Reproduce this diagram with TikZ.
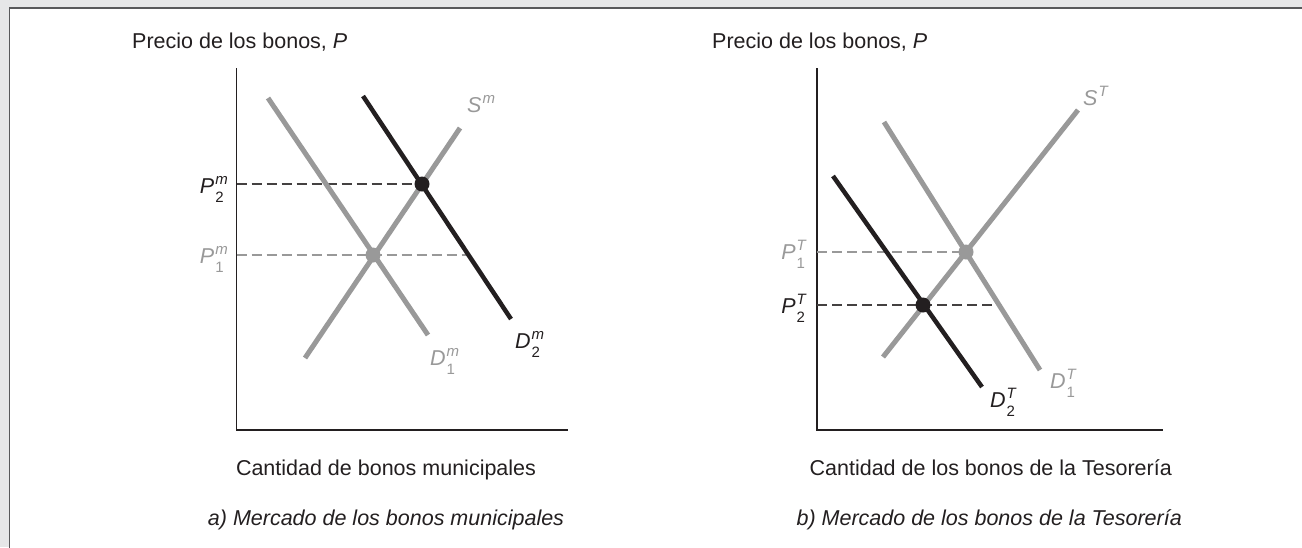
\documentclass[tikz,border=0pt]{standalone}
\usepackage{fontspec}
\setmainfont{Liberation Sans}
\definecolor{bgc}{HTML}{E6E7E8}
\definecolor{framec}{HTML}{58595B}
\definecolor{ink}{HTML}{231F20}
\definecolor{lgray}{HTML}{999999}
\newcommand{\subfont}{\fontsize{15}{15}\selectfont}
\newcommand{\ssl}[3]{{\itshape #1}\hspace{1pt}{\subfont\setbox0=\hbox{\itshape #2}\setbox2=\hbox{#3}\ifdim\wd0>\wd2 \dimen0=\wd0 \else\dimen0=\wd2 \fi\rlap{\raise 8.5pt\copy0}\hbox to\dimen0{\lower 9pt\copy2\hfil}}}
\newcommand{\sss}[2]{{\itshape #1}\hspace{1pt}{\subfont\raise 8.5pt\hbox{\itshape #2}}}
\tikzset{
  txt/.style={inner sep=0pt, font=\fontsize{21.5}{25}\selectfont, text=ink},
  axisline/.style={draw=ink, line width=1.5pt},
  grayline/.style={draw=lgray, line width=5pt},
  blackline/.style={draw=ink, line width=4.5pt},
  darkdash/.style={draw=ink!85, line width=1.3pt, dash pattern=on 10pt off 5pt},
  graydash/.style={draw=lgray, line width=1.3pt, dash pattern=on 10pt off 5pt},
  blackdot/.style={fill=ink},
  graydot/.style={fill=lgray},
}
\begin{document}
\begin{tikzpicture}[x=1pt,y=-1pt]
\useasboundingbox (0,0) rectangle (1302,547);
\fill[bgc] (0,0) rectangle (1302,547);
\filldraw[fill=white, draw=framec, line width=1.5pt] (9.5,8) rectangle (1320,560);

% ---------- left panel ----------
\coordinate (LA) at (236.5,68);
\coordinate (LO) at (236.5,430);
\coordinate (LX) at (568,430);
\draw[axisline] (LA) -- (LO) -- (LX);

\coordinate (LE1) at (373,255);
\coordinate (LE2) at (422,184);
\coordinate (LP1) at (236.5,255);
\coordinate (LP2) at (236.5,184);
\coordinate (LP1e) at (468,255);
\draw[graydash] (LP1) -- (LP1e);
\draw[darkdash] (LP2) -- (LE2);

\coordinate (LD1a) at (268,98);
\coordinate (LD1b) at (428,335);
\coordinate (LSa) at (305,358);
\coordinate (LSb) at (460,128);
\coordinate (LD2a) at (363,96);
\coordinate (LD2b) at (511,319);
\draw[grayline] (LD1a) -- (LD1b);
\draw[grayline] (LSa) -- (LSb);
\draw[blackline] (LD2a) -- (LD2b);
\fill[graydot] (LE1) circle (7.5);
\fill[blackdot] (LE2) circle (7.5);

\node[txt, anchor=base west] (LT) at (132,48) {Precio de los bonos, \textit{P}};
\node[txt, anchor=base east] (LP2l) at (228,193) {\ssl{P}{m}{2}};
\node[txt, anchor=base east, text=lgray] (LP1l) at (228,263) {\ssl{P}{m}{1}};
\node[txt, anchor=base west, text=lgray] (LSl) at (467,112) {\sss{S}{m}};
\node[txt, anchor=base west, text=lgray] (LD1l) at (430,365) {\ssl{D}{m}{1}};
\node[txt, anchor=base west] (LD2l) at (515,348) {\ssl{D}{m}{2}};
\node[txt, anchor=base] (LXl) at (386,475) {Cantidad de bonos municipales};
\node[txt, anchor=base] (LCap) at (386,525) {\itshape a) Mercado de los bonos municipales};

% ---------- right panel ----------
\coordinate (RA) at (817,68);
\coordinate (RO) at (817,430);
\coordinate (RX) at (1163,430);
\draw[axisline] (RA) -- (RO) -- (RX);

\coordinate (RE1) at (966,252);
\coordinate (RE2) at (923,305);
\coordinate (RP1) at (817,252);
\coordinate (RP2) at (817,305);
\coordinate (RP2e) at (999,305);
\draw[graydash] (RP1) -- (RE1);
\draw[darkdash] (RP2) -- (RP2e);

\coordinate (RSa) at (883,357);
\coordinate (RSb) at (1078,110);
\coordinate (RD1a) at (884,122);
\coordinate (RD1b) at (1040,370);
\coordinate (RD2a) at (833,176);
\coordinate (RD2b) at (982,387);
\draw[grayline] (RSa) -- (RSb);
\draw[grayline] (RD1a) -- (RD1b);
\draw[blackline] (RD2a) -- (RD2b);
\fill[graydot] (RE1) circle (7.5);
\fill[blackdot] (RE2) circle (7.5);

\node[txt, anchor=base west] (RT) at (712,48) {Precio de los bonos, \textit{P}};
\node[txt, anchor=base east, text=lgray] (RP1l) at (806,259) {\ssl{P}{T}{1}};
\node[txt, anchor=base east] (RP2l) at (806,313) {\ssl{P}{T}{2}};
\node[txt, anchor=base west, text=lgray] (RSl) at (1083,105) {\sss{S}{T}};
\node[txt, anchor=base west, text=lgray] (RD1l) at (1050,388) {\ssl{D}{T}{1}};
\node[txt, anchor=base west] (RD2l) at (990,407) {\ssl{D}{T}{2}};
\node[txt, anchor=base east] (RXl) at (1172,475) {Cantidad de los bonos de la Tesorería};
\node[txt, anchor=base east] (RCap) at (1182,525) {\itshape b) Mercado de los bonos de la Tesorería};
\end{tikzpicture}
\end{document}
